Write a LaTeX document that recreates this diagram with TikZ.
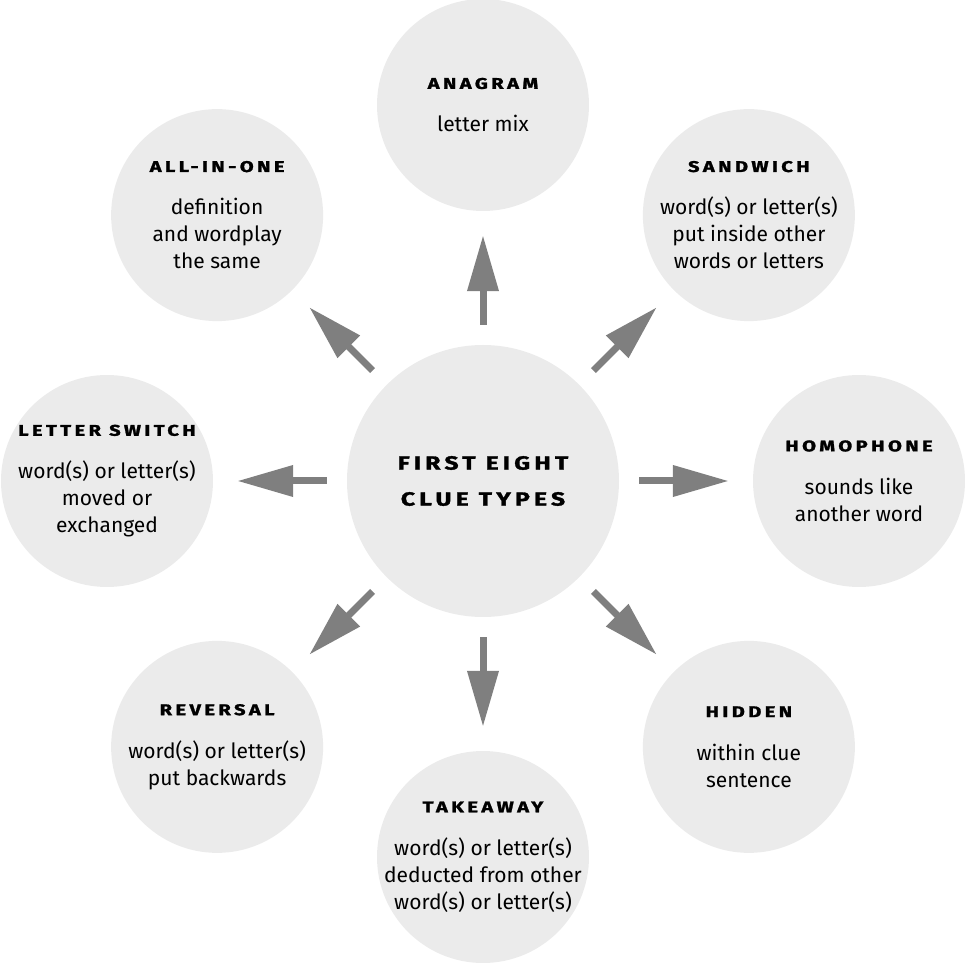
\documentclass[tikz,border=0pt]{standalone}
\usepackage{fontspec}
\setmainfont{Fira Sans}
\newfontfamily\headfont[FakeStretch=1.3,LetterSpace=22,FakeBold=1.6]{Fira Sans}
\usetikzlibrary{arrows.meta}
\definecolor{bubblegray}{HTML}{EBEBEB}
\definecolor{arrowgray}{HTML}{7F7F7F}
\newcommand{\mHead}[1]{{\headfont\bfseries\fontsize{15.5}{27}\selectfont #1}}
\newcommand{\clue}[4]{\node[bubble] (#1) at (#2:376) {};
  \node[cluetext] (#1-txt) at (#1) {\mHead{#3}\\[16pt]#4}}
\tikzset{
  bubble/.style={circle,fill=bubblegray,minimum size=212pt,inner sep=0pt},
  cluetext/.style={align=center,inner sep=0pt,font=\fontsize{21}{27}\selectfont},
  pointer/.style={line width=7pt,draw=arrowgray,-{Triangle[length=56pt,width=30pt]},
    shorten <=20pt,shorten >=24pt}
}

\begin{document}
\begin{tikzpicture}[x=1pt,y=1pt]
    \useasboundingbox (-483,-484) rectangle (482,481);
    \node[bubble,minimum size=272pt] (hub) at (0,0) {};
    \node[align=center,inner sep=0pt,font=\headfont\bfseries\fontsize{19}{36}\selectfont] (hub-txt) at (hub) {FIRST EIGHT\\CLUE TYPES};
    \clue{anagram}{90}{ANAGRAM}{letter mix};
    \clue{sandwich}{45}{SANDWICH}{word(s) or letter(s)\\put inside other\\words or letters};
    \clue{homophone}{0}{HOMOPHONE}{sounds like\\another word};
    \clue{hidden}{-45}{HIDDEN}{within clue\\sentence};
    \clue{takeaway}{-90}{TAKEAWAY}{word(s) or letter(s)\\deducted from other\\word(s) or letter(s)};
    \clue{reversal}{-135}{REVERSAL}{word(s) or letter(s)\\put backwards};
    \clue{switch}{180}{LETTER SWITCH}{word(s) or letter(s)\\moved or\\exchanged};
    \clue{allinone}{135}{ALL-IN-ONE}{definition\\and wordplay\\the same};
    \draw[pointer] (hub) -- (anagram);
    \draw[pointer] (hub) -- (sandwich);
    \draw[pointer] (hub) -- (homophone);
    \draw[pointer] (hub) -- (hidden);
    \draw[pointer] (hub) -- (takeaway);
    \draw[pointer] (hub) -- (reversal);
    \draw[pointer] (hub) -- (switch);
    \draw[pointer] (hub) -- (allinone);
\end{tikzpicture}
\end{document}
